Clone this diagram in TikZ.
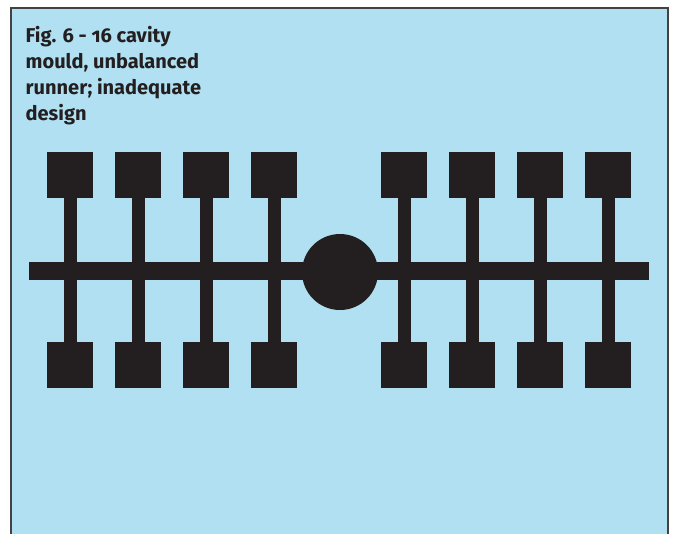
\documentclass[tikz,border=0pt]{standalone}
\usepackage{fontspec}
\setmainfont{Fira Sans}[Numbers=OldStyle]
\usepackage{tikz}
\definecolor{panel}{RGB}{176,224,241}
\definecolor{ink}{RGB}{35,31,32}
\tikzset{cavity/.style={fill=ink,minimum size=46pt,inner sep=0pt}}
\tikzset{runner/.style={draw=ink,line width=18pt}}
\tikzset{gate/.style={draw=ink,line width=13pt}}

\begin{document}
\begin{tikzpicture}[x=1pt,y=-1pt]
	\useasboundingbox (0,0) rectangle (677,533);
	\fill[panel,draw=ink!85,line width=2pt] (11,8) rectangle (668,545);
	\node[anchor=north west,align=left,text=ink,font=\fontsize{20}{25.8}\selectfont\bfseries,inner sep=0pt] (title) at (25.5,26.5) {Fig. 6 - 16 cavity\\mould, unbalanced\\runner; inadequate\\design};
	\coordinate (run l) at (29,271);
	\coordinate (run r) at (649,271);
	\draw[runner] (run l) -- (run r);
	\foreach \n/\x in {1/70,2/138,3/206,4/274,5/404,6/472,7/540,8/608} {
		\node[cavity] (top\n) at (\x,175) {};
		\node[cavity] (bot\n) at (\x,365) {};
		\draw[gate] (top\n.south) -- (bot\n.north);
	}
	\node[circle,fill=ink,minimum size=76pt,inner sep=0pt] (sprue) at (340,272) {};
\end{tikzpicture}
\end{document}
